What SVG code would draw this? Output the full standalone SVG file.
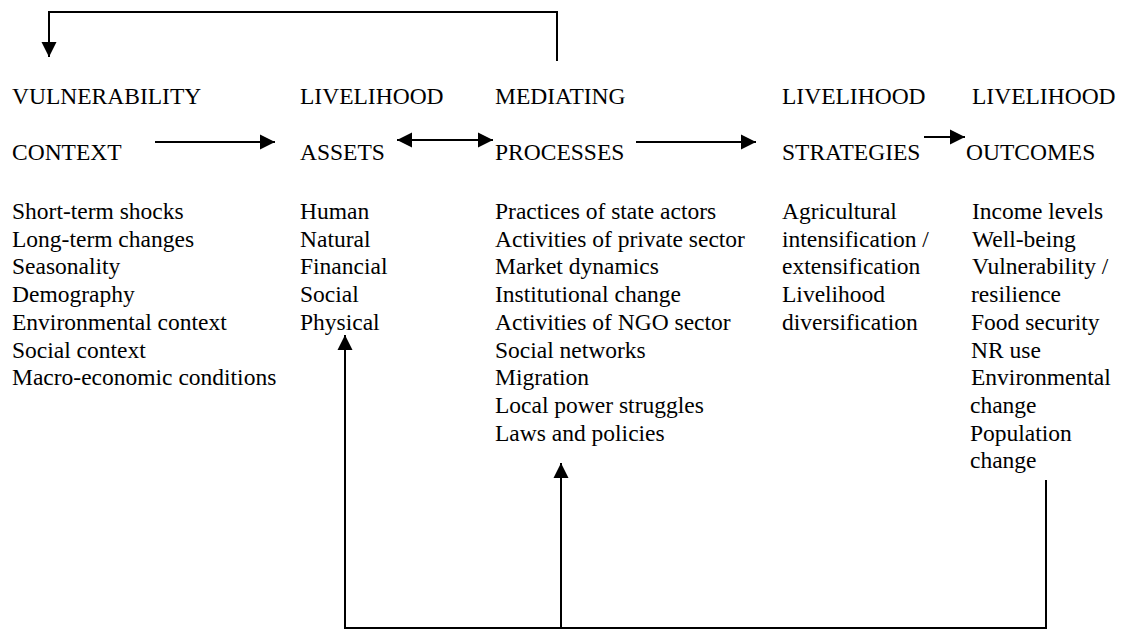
<svg xmlns="http://www.w3.org/2000/svg" width="1135" height="630" viewBox="0 0 1135 630">
  <style>
    text { font-family: "Liberation Serif", "Times New Roman", serif; font-size: 23.5px; fill: #000; }
    .wire { fill: none; stroke: #000; stroke-width: 2; }
  </style>
  <defs>
    <marker id="head" markerWidth="16" markerHeight="16" refX="15" refY="8" orient="auto-start-reverse" markerUnits="userSpaceOnUse">
      <path d="M0,0.5 L15,8 L0,15.5 Z" fill="#000"/>
    </marker>
  </defs>
  <rect width="1135" height="630" fill="#fff"/>

  <!-- column: vulnerability context -->
  <g id="vulnerability-context">
    <text x="12" y="104">VULNERABILITY</text>
    <text x="12" y="160">CONTEXT</text>
    <text x="12" y="219">Short-term shocks</text>
    <text x="12" y="246.7">Long-term changes</text>
    <text x="12" y="274.4">Seasonality</text>
    <text x="12" y="302.1">Demography</text>
    <text x="12" y="329.8">Environmental context</text>
    <text x="12" y="357.5">Social context</text>
    <text x="12" y="385.2">Macro-economic conditions</text>
  </g>

  <!-- column: livelihood assets -->
  <g id="livelihood-assets">
    <text x="300" y="104">LIVELIHOOD</text>
    <text x="300" y="160">ASSETS</text>
    <text x="300" y="219">Human</text>
    <text x="300" y="246.7">Natural</text>
    <text x="300" y="274.4">Financial</text>
    <text x="300" y="302.1">Social</text>
    <text x="300" y="329.8">Physical</text>
  </g>

  <!-- column: mediating processes -->
  <g id="mediating-processes">
    <text x="495" y="104">MEDIATING</text>
    <text x="495" y="160">PROCESSES</text>
    <text x="495" y="219">Practices of state actors</text>
    <text x="495" y="246.7">Activities of private sector</text>
    <text x="495" y="274.4">Market dynamics</text>
    <text x="495" y="302.1">Institutional change</text>
    <text x="495" y="329.8">Activities of NGO sector</text>
    <text x="495" y="357.5">Social networks</text>
    <text x="495" y="385.2">Migration</text>
    <text x="495" y="412.9">Local power struggles</text>
    <text x="495" y="440.6">Laws and policies</text>
  </g>

  <!-- column: livelihood strategies -->
  <g id="livelihood-strategies">
    <text x="782" y="104">LIVELIHOOD</text>
    <text x="782" y="160">STRATEGIES</text>
    <text x="782" y="219">Agricultural</text>
    <text x="782" y="246.7">intensification /</text>
    <text x="782" y="274.4">extensification</text>
    <text x="782" y="302.1">Livelihood</text>
    <text x="782" y="329.8">diversification</text>
  </g>

  <!-- column: livelihood outcomes -->
  <g id="livelihood-outcomes">
    <text x="972" y="104">LIVELIHOOD</text>
    <text x="966" y="160">OUTCOMES</text>
    <text x="972" y="219">Income levels</text>
    <text x="972" y="246.7">Well-being</text>
    <text x="972" y="274.4">Vulnerability /</text>
    <text x="971" y="302.1">resilience</text>
    <text x="971" y="329.8">Food security</text>
    <text x="971" y="357.5">NR use</text>
    <text x="971" y="385.2">Environmental</text>
    <text x="970" y="412.9">change</text>
    <text x="970" y="440.6">Population</text>
    <text x="970" y="468.3">change</text>
  </g>

  <!-- connectors -->
  <g id="connectors">
    <!-- feedback from processes to context -->
    <path class="wire" d="M557,61 V12 H49 V57" marker-end="url(#head)"/>
    <!-- forward flow along the heading row -->
    <path class="wire" d="M155,142 H275" marker-end="url(#head)"/>
    <path class="wire" d="M397,140 H493" marker-start="url(#head)" marker-end="url(#head)"/>
    <path class="wire" d="M636,142 H756" marker-end="url(#head)"/>
    <path class="wire" d="M924,137 H965" marker-end="url(#head)"/>
    <!-- feedback from outcomes to assets and processes -->
    <path class="wire" d="M1046,480 V628 H345 V335" marker-end="url(#head)"/>
    <path class="wire" d="M561,628 V463" marker-end="url(#head)"/>
  </g>
</svg>
